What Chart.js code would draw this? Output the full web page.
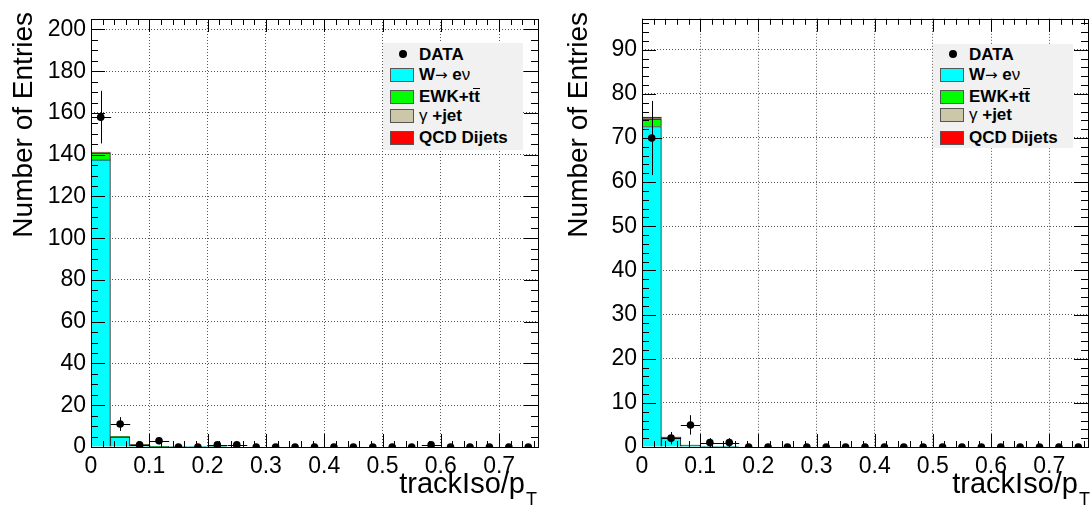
<!DOCTYPE html>
<html>
<head>
<meta charset="utf-8">
<script src="https://cdn.jsdelivr.net/npm/chart.js@4.4.1/dist/chart.umd.min.js"></script>
<style>
  body { margin: 0; width: 1092px; height: 508px; background: #fff; position: relative; overflow: hidden;
         font-family: 'Liberation Sans', Arial, Helvetica, sans-serif; color: #000; }
  .panel { position: absolute; top: 0; width: 546px; height: 508px; }
  .panel canvas { position: absolute; left: 0; top: 0; }
  .ytitle { position: absolute; width: 240px; font-size: 28px; line-height: 28px; text-align: right;
            white-space: nowrap; transform-origin: 0 0; transform: rotate(-90deg); }
  .xtitle { position: absolute; font-size: 29px; line-height: 29px; white-space: nowrap; text-align: right; }
  .xtitle span { font-size: 18px; position: relative; top: 12px; margin-left: 1px; }
  .legend { position: absolute; width: 140px; height: 107px; background: #f1f1f1; }
  .legend .row { position: absolute; left: 0; height: 20px; width: 140px; }
  .legend .sw { position: absolute; left: 7px; top: 3px; width: 22px; height: 12px; border: 1px solid #555; }
  .legend .dot { position: absolute; left: 16px; top: 5px; width: 8px; height: 8px; border-radius: 50%; background: #000; }
  .legend .lbl { position: absolute; left: 36px; top: 0; font-size: 17px; line-height: 20px; font-weight: bold; white-space: nowrap; }
  .legend .n { font-weight: normal; }
  .legend .arr { font-weight: normal; font-family: 'DejaVu Sans', sans-serif; font-size: 15px; }
  .ov { position: relative; }
  .ov::after { content: ''; position: absolute; left: -1px; right: 0; top: 1px; border-top: 1.5px solid #000; }
</style>
</head>
<body>

<div class="panel" id="pL" style="left:0">
  <canvas id="cL" width="546" height="508"></canvas>
  <div class="ytitle" style="left:9px; top:252px">Number of Entries</div>
  <div class="xtitle" style="right:9px; top:469px">trackIso/p<span>T</span></div>
  <div class="legend" style="left:383px; top:43px">
    <div class="row" style="top:2px"><div class="dot"></div><div class="lbl">DATA</div></div>
    <div class="row" style="top:22px"><div class="sw" style="background:#00ffff"></div><div class="lbl">W<span class="arr">&rarr;</span> e<span class="n">&nu;</span></div></div>
    <div class="row" style="top:44px"><div class="sw" style="background:#00ff00"></div><div class="lbl">EWK+t<span class="ov">t</span></div></div>
    <div class="row" style="top:63px"><div class="sw" style="background:#ccc7a8"></div><div class="lbl"><span class="n">&gamma;</span> +jet</div></div>
    <div class="row" style="top:85px"><div class="sw" style="background:#ff0000"></div><div class="lbl">QCD Dijets</div></div>
  </div>
</div>

<div class="panel" id="pR" style="left:546px">
  <canvas id="cR" width="546" height="508"></canvas>
  <div class="ytitle" style="left:18px; top:252px">Number of Entries</div>
  <div class="xtitle" style="right:2px; top:469px">trackIso/p<span>T</span></div>
  <div class="legend" style="left:387px; top:44px; height:104px">
    <div class="row" style="top:1px"><div class="dot"></div><div class="lbl">DATA</div></div>
    <div class="row" style="top:21px"><div class="sw" style="background:#00ffff"></div><div class="lbl">W<span class="arr">&rarr;</span> e<span class="n">&nu;</span></div></div>
    <div class="row" style="top:43px"><div class="sw" style="background:#00ff00"></div><div class="lbl">EWK+t<span class="ov">t</span></div></div>
    <div class="row" style="top:61px"><div class="sw" style="background:#ccc7a8"></div><div class="lbl"><span class="n">&gamma;</span> +jet</div></div>
    <div class="row" style="top:84px"><div class="sw" style="background:#ff0000"></div><div class="lbl">QCD Dijets</div></div>
  </div>
</div>

<script>
// bin centres of trackIso/pT (bin width 1/30)
const binCenters = ['0.017', '0.050', '0.083', '0.117', '0.150', '0.183', '0.217', '0.250', '0.283', '0.317',
  '0.350', '0.383', '0.417', '0.450', '0.483', '0.517', '0.550', '0.583', '0.617', '0.650',
  '0.683', '0.717', '0.750'];
const xMax = 0.7667;
const xTickStep = 0.1;

// left panel
const dataL = [158, 11, 1, 3, 0, 0, 1, 1, 0, 0, 0, 0, 0, 0, 0, 0, 0, 1, 0, 0, 0, 0, 0];
const errL  = [12.6, 3.3, 1, 1.7, 0, 0, 1, 1, 0, 0, 0, 0, 0, 0, 0, 0, 0, 1, 0, 0, 0, 0, 0];
const wenuL = [137.5, 4.8, 0.9, 0.2, 0.2, 0.1, 0.05, 0, 0, 0, 0, 0, 0, 0, 0, 0, 0, 0, 0, 0, 0, 0, 0];
const ewkL  = [3.3, 0.2, 0.1, 0.05, 0, 0, 0, 0, 0, 0, 0, 0, 0, 0, 0, 0, 0, 0, 0, 0, 0, 0, 0];
const gjetL = [0.2, 0, 0, 0, 0, 0, 0, 0, 0, 0, 0, 0, 0, 0, 0, 0, 0, 0, 0, 0, 0, 0, 0];
const qcdL  = [0.3, 0.1, 0.1, 0.05, 0, 0, 0, 0, 0, 0, 0, 0, 0, 0, 0, 0, 0, 0, 0, 0, 0, 0, 0];
const yMaxL = 205;
const yStepL = 20;

// right panel
const dataR = [70, 2, 5, 1, 1, 0, 0, 0, 0, 0, 0, 0, 0, 0, 0, 0, 0, 0, 0, 0, 0, 0, 0];
const errR  = [8.4, 1.4, 2.2, 1, 1, 0, 0, 0, 0, 0, 0, 0, 0, 0, 0, 0, 0, 0, 0, 0, 0, 0, 0];
const wenuR = [72.6, 2.0, 0.4, 0.1, 0.05, 0, 0, 0, 0, 0, 0, 0, 0, 0, 0, 0, 0, 0, 0, 0, 0, 0, 0];
const ewkR  = [1.7, 0.2, 0.05, 0, 0, 0, 0, 0, 0, 0, 0, 0, 0, 0, 0, 0, 0, 0, 0, 0, 0, 0, 0];
const gjetR = [0.1, 0, 0, 0, 0, 0, 0, 0, 0, 0, 0, 0, 0, 0, 0, 0, 0, 0, 0, 0, 0, 0, 0];
const qcdR  = [0.35, 0.05, 0, 0, 0, 0, 0, 0, 0, 0, 0, 0, 0, 0, 0, 0, 0, 0, 0, 0, 0, 0, 0];
const yMaxR = 97;
const yStepR = 10;

const FONT = "'Liberation Sans', Arial, Helvetica, sans-serif";

// frame, ROOT style inside ticks and data error bars
const rootStyle = {
  id: 'rootStyle',
  afterDatasetsDraw(chart, args, o) {
    const { ctx, chartArea: a, scales } = chart;
    const xs = scales.x, ys = scales.y, xc = scales.xc, yd = scales.yd;
    ctx.save();
    ctx.strokeStyle = '#000';
    ctx.lineWidth = 1;

    // error bars
    const half = (xc.getPixelForValue(1) - xc.getPixelForValue(0)) / 2;
    ctx.beginPath();
    o.values.forEach((v, i) => {
      const e = o.errors[i];
      if (!e) return;
      const px = Math.round(xc.getPixelForValue(i)) + 0.5;
      const py = Math.round(yd.getPixelForValue(v)) + 0.5;
      ctx.moveTo(px, yd.getPixelForValue(v + e));
      ctx.lineTo(px, Math.min(yd.getPixelForValue(v - e), a.bottom));
      ctx.moveTo(px - half, py);
      ctx.lineTo(px + half, py);
    });
    ctx.stroke();

    // ticks
    ctx.beginPath();
    const nx = Math.round(xs.max / o.xMinor);
    for (let k = 0; k <= nx; k++) {
      const px = Math.round(xs.getPixelForValue(k * o.xMinor)) + 0.5;
      const len = k % o.xPer === 0 ? 13 : 6;
      ctx.moveTo(px, a.bottom); ctx.lineTo(px, a.bottom - len);
      ctx.moveTo(px, a.top); ctx.lineTo(px, a.top + len);
    }
    const ny = Math.floor(ys.max / o.yMinor);
    for (let k = 0; k <= ny; k++) {
      const py = Math.round(ys.getPixelForValue(k * o.yMinor)) + 0.5;
      const len = k % o.yPer === 0 ? 14 : 7;
      ctx.moveTo(a.left, py); ctx.lineTo(a.left + len, py);
      ctx.moveTo(a.right, py); ctx.lineTo(a.right - len, py);
    }
    ctx.stroke();

    // frame
    ctx.strokeRect(Math.round(a.left) + 0.5, Math.round(a.top) + 0.5,
      Math.round(a.right - a.left), Math.round(a.bottom - a.top));
    ctx.restore();
  }
};

function mcSet(label, values, color) {
  return {
    type: 'bar', label, data: values, backgroundColor: color,
    borderColor: '#222', borderWidth: 1, borderSkipped: 'start',
    xAxisID: 'xc', yAxisID: 'y', stack: 'mc', order: 2,
    barPercentage: 1, categoryPercentage: 1
  };
}

function makePanel(id, d, layout) {
  new Chart(document.getElementById(id), {
    type: 'bar',
    data: {
      labels: binCenters,
      datasets: [
        {
          type: 'line', label: 'DATA', data: d.data, showLine: false,
          pointRadius: 3.8, pointBackgroundColor: '#000', pointBorderColor: '#000', pointBorderWidth: 0,
          xAxisID: 'xc', yAxisID: 'yd', order: 0
        },
        mcSet('W\u2192 e\u03bd', d.wenu, '#00ffff'),
        mcSet('EWK+tt\u0304', d.ewk, '#00ff00'),
        mcSet('\u03b3 +jet', d.gjet, '#ccc7a8'),
        mcSet('QCD Dijets', d.qcd, '#ff0000')
      ]
    },
    options: {
      responsive: false,
      animation: false,
      layout: { padding: { left: 0, right: layout.right, top: layout.top, bottom: 0 } },
      plugins: {
        legend: { display: false },
        tooltip: { enabled: false },
        rootStyle: { values: d.data, errors: d.err, xMinor: 0.02, xPer: 5, yMinor: d.yMinor, yPer: d.yPer }
      },
      scales: {
        xc: { type: 'category', stacked: true, offset: true, display: false },
        x: {
          type: 'linear', position: 'bottom', min: 0, max: xMax, offset: false,
          afterFit: s => { s.height = layout.xh; },
          grid: { color: '#555', lineWidth: 1, drawTicks: false, offset: false },
          border: { display: false, dash: [1, 2] },
          ticks: {
            stepSize: xTickStep, includeBounds: false, padding: 6, maxRotation: 0, autoSkip: false,
            color: '#000', font: { family: FONT, size: 23 },
            callback: v => (Math.abs(v) < 1e-9 ? '0' : v.toFixed(1))
          }
        },
        y: {
          type: 'linear', stacked: true, min: 0, max: d.yMax,
          afterFit: s => { s.width = layout.yw; },
          grid: { color: '#555', lineWidth: 1, drawTicks: false },
          border: { display: false, dash: [1, 2] },
          ticks: {
            stepSize: d.yStep, includeBounds: false, padding: 5,
            color: '#000', font: { family: FONT, size: 23 }
          }
        },
        yd: { type: 'linear', display: false, min: 0, max: d.yMax }
      }
    },
    plugins: [rootStyle]
  });
}

makePanel('cL',
  { data: dataL, err: errL, wenu: wenuL, ewk: ewkL, gjet: gjetL, qcd: qcdL,
    yMax: yMaxL, yStep: yStepL, yMinor: 5, yPer: 4 },
  { yw: 91, right: 8, top: 19, xh: 61 });

makePanel('cR',
  { data: dataR, err: errR, wenu: wenuR, ewk: ewkR, gjet: gjetR, qcd: qcdR,
    yMax: yMaxR, yStep: yStepR, yMinor: 2, yPer: 5 },
  { yw: 96, right: 3, top: 18, xh: 61 });
</script>
</body>
</html>
